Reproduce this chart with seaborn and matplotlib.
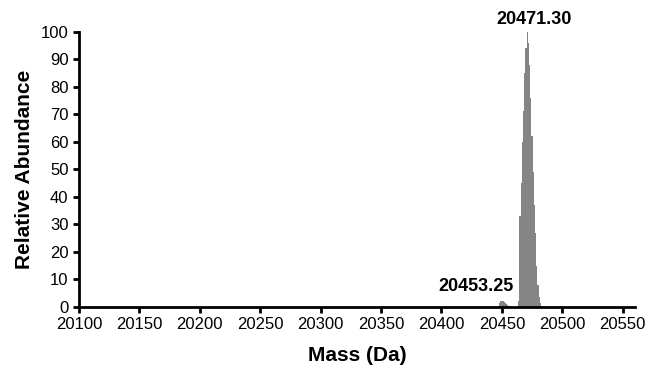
import numpy as np
import pandas as pd
import seaborn as sns
import matplotlib.pyplot as plt

# Deconvoluted spectrum (1 Da bins)
mass = [20447, 20448, 20449, 20450, 20451, 20452, 20453, 20454, 20455, 20456,
        20463, 20464, 20465, 20466, 20467, 20468, 20469, 20470, 20471, 20472,
        20473, 20474, 20475, 20476, 20477, 20478, 20479, 20480, 20481, 20482, 20483]
abundance = [0.5, 1.5, 2.0, 2.3, 2.1, 1.8, 1.5, 1.2, 0.8, 0.3,
             0.5, 2.0, 33, 45, 60, 71, 85, 94, 100, 96,
             88, 76, 62, 49, 37, 27, 15, 8, 3.5, 1.5, 0.5]

peak_labels = ["20453.25", "20471.30"]
label_pos = [(20429, 7.3), (20477, 104.4)]

x_ticks = list(range(20100, 20551, 50))
y_ticks = list(range(0, 101, 10))

df = pd.DataFrame({"mass": mass, "abundance": abundance})

sns.set_style("ticks", {"axes.edgecolor": "black", "text.color": "black",
                        "xtick.color": "black", "ytick.color": "black",
                        "axes.labelcolor": "black"})
plt.rcParams["font.family"] = ["Liberation Sans", "DejaVu Sans"]

fig = plt.figure(figsize=(6.5, 3.68), dpi=100)
ax = fig.add_axes([0.1215, 0.166, 0.855, 0.748])

sns.histplot(data=df, x="mass", weights="abundance", discrete=True,
             color="#858585", linewidth=0, alpha=1, ax=ax)

for txt, (x, y) in zip(peak_labels, label_pos):
    ax.text(x, y, txt, ha="center", va="center", fontsize=13,
            fontweight="bold", clip_on=False)

ax.set_xlim(20100, 20560)
ax.set_ylim(0, 100)
ax.set_xticks(x_ticks)
ax.set_yticks(y_ticks)
ax.tick_params(axis="both", labelsize=12, width=2, length=4, direction="out")
ax.set_xlabel("Mass (Da)", fontsize=15, fontweight="bold", labelpad=10)
ax.set_ylabel("Relative Abundance", fontsize=15, fontweight="bold", labelpad=5)
for side in ["left", "bottom"]:
    ax.spines[side].set_linewidth(2)
sns.despine(ax=ax)

fig.savefig("out.png", dpi=100)
